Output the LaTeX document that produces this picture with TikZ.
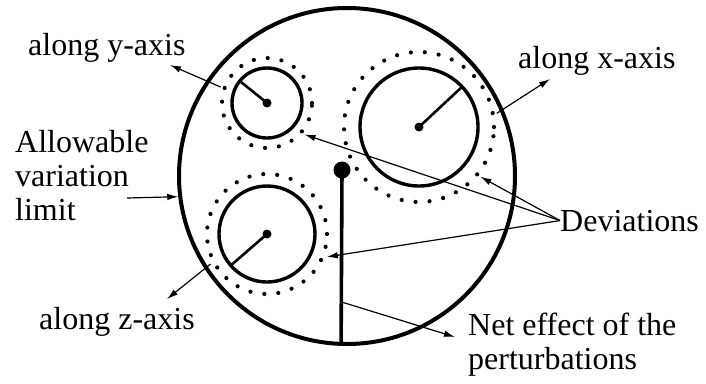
\documentclass[tikz,border=0pt]{standalone}
\usepackage{fontspec}
\setmainfont{Liberation Serif}
\usetikzlibrary{arrows.meta, positioning, calc}
\tikzset{
	lbl/.style={font=\fontsize{32}{34}\selectfont, inner sep=0pt, anchor=base west},
	limitring/.style={circle, draw=black, line width=4pt, inner sep=0pt, outer sep=2pt},
	% rings round each axis
	solring/.style={circle, draw=black, line width=3.4pt, inner sep=0pt, outer sep=0pt},
	dotring/.style={circle, draw=black, line width=4.2pt, dash pattern=on 0pt off 14pt, line cap=round, inner sep=0pt, outer sep=4pt},
	hub/.style={circle, fill=black, inner sep=0pt, minimum size=9pt},
	spoke/.style={line width=2.6pt},
	callout/.style={-{Latex[length=11pt, width=6.5pt]}, line width=1.2pt},
}

\begin{document}
\begin{tikzpicture}[x=1pt, y=-1pt]
	\useasboundingbox (0,0) rectangle (706,383);
	\node[limitring, minimum size=336pt] (limit) at (347,176) {};
	\foreach \n/\cx/\cy/\rs/\rd/\ang in {y/267/103/35/45/141, x/419/127/59/75/43, z/267/234/48/60/221} {
		\node[solring, minimum size=2*\rs pt] (sol\n) at (\cx,\cy) {};
		\node[dotring, minimum size=2*\rd pt] (dot\n) at (\cx,\cy) {};
		\node[hub] (hub\n) at (\cx,\cy) {};
		\draw[spoke] (hub\n.center) -- (sol\n.\ang);
	}
	\node[circle, fill=black, inner sep=0pt, minimum size=17pt] (ball) at (342,170) {};
	\draw[line width=3.6pt] (ball.center) -- (limit.268);

	\node[lbl] (ylab) at (28,55) {along y-axis};
	\node[lbl] (xlab) at (518,68) {along x-axis};
	\node[lbl] (zlab) at (39,329) {along z-axis};
	\node[lbl] (devlab) at (560,231) {Deviations};
	\node[lbl, anchor=north west, align=left] (netlab) at (468,313) {Net effect of the\\perturbations};
	\node[lbl, anchor=north west, align=left] (limlab) at (15,130) {Allowable\\variation\\limit};

	\coordinate (ytip) at (170,65);
	\coordinate (xtip) at (550,79);
	\coordinate (ztip) at (167,299);
	\coordinate (nettip) at (455,337);
	\coordinate (netfrom) at ($(ball)!0.75!(limit.268)$);
	\coordinate (limfrom) at (127,198);

	\draw[callout] (doty.161) -- (ytip);
	\draw[callout] (dotx.10) -- (xtip);
	\draw[callout] (dotz.208) -- (ztip);
	\draw[callout] (devlab.west) -- (doty.-40);
	\draw[callout] (devlab.west) -- (dotx.-39);
	\draw[callout] (devlab.west) -- (dotz.-21);
	\draw[callout] (netfrom) -- (nettip);
	\draw[callout] (limfrom) -- (limit.187.5);
\end{tikzpicture}
\end{document}
